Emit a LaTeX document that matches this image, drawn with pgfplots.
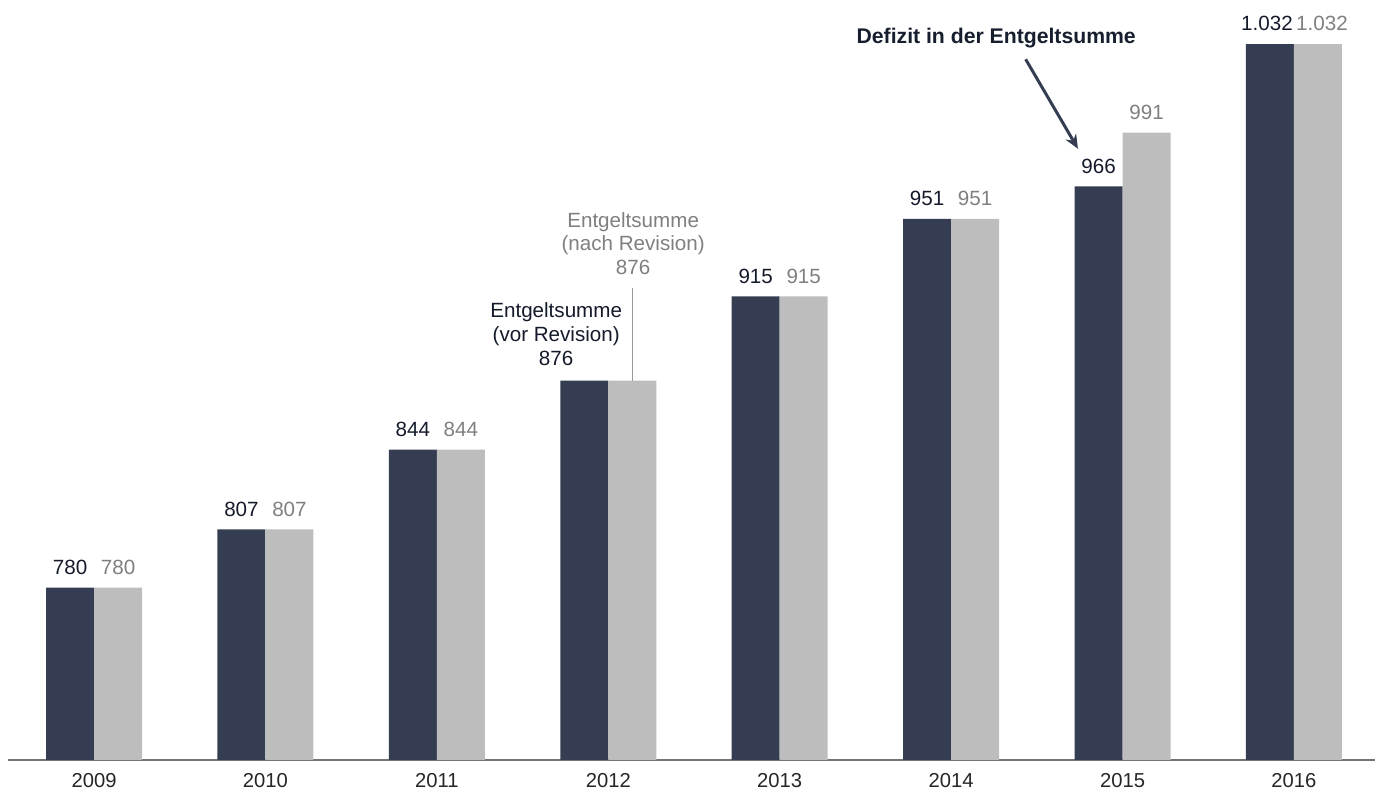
\documentclass[border=0pt]{standalone}
\usepackage{pgfplots}
\pgfplotsset{compat=1.18}
\usepackage{fontspec}
\setmainfont{Liberation Sans}
\usetikzlibrary{arrows.meta}
\definecolor{navy}{HTML}{353D52}
\definecolor{lgray}{HTML}{BDBDBD}
\definecolor{tgray}{HTML}{7F7F7F}
\definecolor{tdark}{HTML}{141A2A}
\begin{document}
\begin{tikzpicture}[x=1pt,y=1pt]
\useasboundingbox (-4,-18) rectangle (686.5,380);
\begin{axis}[
  at={(0,0)}, anchor=south west,
  scale only axis, width=683.5pt, height=380pt,
  ybar=0pt, bar width=24pt,
  xmin=-0.502, xmax=7.473, ymin=700, ymax=1052.5,
  axis x line=bottom, axis y line=none,
  x axis line style={draw=black!55, -, line width=0.8pt},
  xtick={0,1,2,3,4,5,6,7},
  xticklabels={2009,2010,2011,2012,2013,2014,2015,2016},
  major tick length=0pt,
  xticklabel style={font=\fontsize{10.1}{12}\selectfont, text=black!85, yshift=-3pt},
  nodes near coords, point meta=explicit symbolic,
  nodes near coords style={font=\fontsize{10.3}{12}\selectfont, inner sep=3pt, yshift=3.3pt},
  clip=false,
]
\addplot[fill=navy, draw=none, every node near coord/.append style={text=tdark}]
 coordinates {(0,780) [780] (1,807) [807] (2,844) [844] (3,876) [{}] (4,915) [915] (5,951) [951] (6,966) [966] (7,1032) [{}]};
\addplot[fill=lgray, draw=none, every node near coord/.append style={text=tgray}]
 coordinates {(0,780) [780] (1,807) [807] (2,844) [844] (3,876) [{}] (4,915) [915] (5,951) [951] (6,991) [991] (7,1032) [{}]};
\node[anchor=south, font=\fontsize{10.3}{12}\selectfont, text=tdark, inner sep=3pt, yshift=3.3pt, xshift=-13.5pt] at (axis cs:7,1032) {1.032};
\node[anchor=south, font=\fontsize{10.3}{12}\selectfont, text=tgray, inner sep=3pt, yshift=3.3pt, xshift=14pt] at (axis cs:7,1032) {1.032};
\node[align=center, font=\fontsize{10.3}{11.85}\selectfont, text=tdark, inner sep=0pt] at (axis cs:2.696,897.6) {Entgeltsumme\\(vor Revision)\\876};
\node[align=center, font=\fontsize{10.3}{11.85}\selectfont, text=tgray, inner sep=0pt] at (axis cs:3.145,939.5) {Entgeltsumme\\(nach Revision)\\876};
\draw[tgray!80, line width=0.6pt] (axis cs:3.14,918.9) -- (axis cs:3.14,876);
\node[font=\bfseries\fontsize{10.6}{12}\selectfont, text=tdark!90!navy] at (axis cs:5.263,1034.8) {Defizit in der Entgeltsumme};
\draw[navy, line width=1.5pt, -{Stealth[length=7pt,width=6pt]}] (axis cs:5.435,1025.0) -- (axis cs:5.74,983.5);
\end{axis}
\end{tikzpicture}
\end{document}
